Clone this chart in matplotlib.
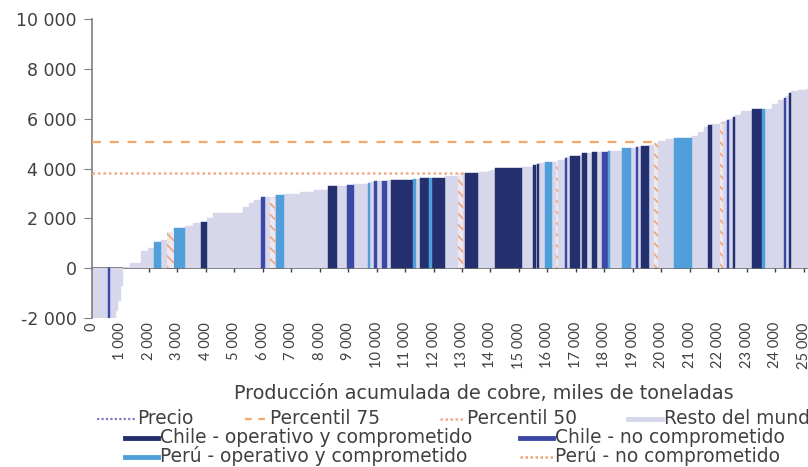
import numpy as np
import matplotlib
matplotlib.use("Agg")
import matplotlib.pyplot as plt
from matplotlib.lines import Line2D

plt.rcParams['font.family'] = ['Lato', 'DejaVu Sans']
plt.rcParams['hatch.linewidth'] = 1.2

# cumulative production at the right edge of each mine (kt)
cum_end = [560, 630, 850, 930, 1010, 1090, 1340, 1720, 1950, 2180, 2430, 2640, 2880, 3270, 3550,
           3830, 4040, 4250, 5300, 5500, 5700, 5940, 6080, 6260, 6430, 6470, 6750, 7300, 7800,
           8300, 8600, 8960, 9210, 9700, 9770, 9910, 10020, 10190, 10370, 10510, 11280, 11390,
           11530, 11850, 11950, 12410, 12860, 13040, 13110, 13570, 13920, 14030, 14170, 15110,
           15500, 15600, 15640, 15710, 15920, 16170, 16310, 16380, 16630, 16700, 16800, 17150,
           17220, 17400, 17580, 17750, 17930, 18140, 18210, 18630, 18950, 19120, 19190, 19300,
           19580, 19750, 19900, 20150, 20460, 21090, 21300, 21500, 21650, 21790, 22070, 22180,
           22320, 22390, 22530, 22600, 22800, 23200, 23550, 23660, 23900, 24110, 24320, 24390,
           24500, 24570, 24800, 25100, 26000]
# cost of each mine
costs = [-2100, -2100, -2100, -1700, -1300, -700, 50, 200, 700, 800, 1040, 1150, 1450, 1620, 1700,
         1800, 1850, 2000, 2230, 2450, 2600, 2750, 2870, 2870, 2870, 2930, 2950, 2980, 3050,
         3150, 3280, 3280, 3330, 3380, 3420, 3450, 3480, 3480, 3500, 3520, 3540, 3560,
         3580, 3610, 3610, 3620, 3700, 3800, 3800, 3800, 3850, 3900, 3950, 4010,
         4080, 4130, 4150, 4180, 4220, 4260, 4280, 4300, 4350, 4420, 4450, 4500,
         4550, 4610, 4640, 4660, 4660, 4670, 4690, 4720, 4820, 4840, 4860, 4880,
         4900, 4950, 5020, 5100, 5180, 5220, 5300, 5450, 5650, 5740, 5800, 5850,
         5900, 5940, 6000, 6060, 6150, 6320, 6380, 6380, 6400, 6600, 6750, 6830,
         6900, 7050, 7100, 7150, 7200]
# category of each mine: R resto, CO Chile operativo, CN Chile no comprometido,
# PO Perú operativo, PN Perú no comprometido
cats = ['R', 'CN', 'R', 'R', 'R', 'R', 'R', 'R', 'R', 'R', 'PO', 'R', 'PN', 'PO', 'R',
        'R', 'CO', 'R', 'R', 'R', 'R', 'R', 'CN', 'R', 'PN', 'R', 'PO', 'R', 'R',
        'R', 'CO', 'R', 'CN', 'R', 'PO', 'R', 'CN', 'R', 'CN', 'R', 'CO', 'PO',
        'R', 'CO', 'PO', 'CO', 'R', 'PN', 'R', 'CO', 'R', 'R', 'R', 'CO',
        'R', 'CO', 'R', 'CO', 'R', 'PO', 'R', 'PN', 'R', 'CN', 'R', 'CO',
        'R', 'CO', 'R', 'CO', 'R', 'CN', 'PO', 'R', 'PO', 'R', 'CN', 'R',
        'CO', 'R', 'PN', 'R', 'R', 'PO', 'R', 'R', 'R', 'CO', 'R', 'PN',
        'R', 'CN', 'R', 'CO', 'R', 'R', 'CO', 'PO', 'R', 'R', 'R', 'CN',
        'R', 'CO', 'R', 'R', 'R']

p75_value = 5060
p75_end = 19900
p50_value = 3810
p50_end = 13100

xticks = list(range(0, 26000, 1000))
yticks = [-2000, 0, 2000, 4000, 6000, 8000, 10000]

colors = {'R': '#d7d7ec', 'CO': '#242f6e', 'CN': '#3c48a6', 'PO': '#509fdb', 'PN': '#efe6ee'}
c_p75 = '#f5a86a'
c_p50 = '#f3aa8a'
c_precio = '#7b7bc4'
c_pn = '#f0a47a'
txt = '#404040'

def fmt(v):
    return f"{v:,}".replace(",", " ")

W, H = 808, 467
fig = plt.figure(figsize=(W / 100, H / 100), dpi=100)
ax = fig.add_axes([92 / W, 149 / H, 740 / W, 299 / H])

ends = np.array(cum_end, dtype=float)
starts = np.concatenate([[0.0], ends[:-1]])
widths = ends - starts
costs_a = np.array(costs, dtype=float)

for c in ['R', 'CO', 'CN', 'PO', 'PN']:
    m = np.array([k == c for k in cats])
    if c == 'PN':
        ax.bar(starts[m], costs_a[m], width=widths[m], align='edge', color=colors[c],
               edgecolor=c_pn, hatch='\\\\\\', linewidth=0, zorder=2)
    else:
        ax.bar(starts[m], costs_a[m], width=widths[m], align='edge', color=colors[c],
               edgecolor=colors[c], linewidth=0.3, zorder=2 if c != 'R' else 1)

ax.plot([0, p75_end], [p75_value, p75_value], color=c_p75, lw=1.6,
        linestyle=(0, (4, 4)), zorder=3)
ax.plot([0, p50_end], [p50_value, p50_value], color=c_p50, lw=1.8,
        linestyle=(0, (1, 1.2)), zorder=3)

ax.set_xlim(0, 26000)
ax.set_ylim(-2000, 10000)

for s in ['top', 'right', 'bottom']:
    ax.spines[s].set_visible(False)
ax.spines['left'].set_color('#7f7f7f')
ax.spines['left'].set_linewidth(1.2)

ax.set_yticks(yticks)
ax.set_yticklabels([fmt(v) for v in yticks], fontsize=12.5, color=txt,
                   family=['DejaVu Sans'])
ax.tick_params(axis='y', direction='out', length=6, color='#7f7f7f', pad=5)

ax.set_xticks(xticks)
ax.set_xticklabels([fmt(v) for v in xticks], rotation=90, fontsize=10.5, color=txt)
ax.tick_params(axis='x', length=0, pad=3)

sec = ax.secondary_xaxis(0.1667)
sec.set_xticks(xticks)
sec.set_xticklabels([])
sec.tick_params(axis='x', direction='out', length=3, color='#404040', width=1)
sec.spines['bottom'].set_color('#505050')
sec.spines['bottom'].set_linewidth(1.2)

fig.text(484 / W, 1 - 399 / H, 'Producción acumulada de cobre, miles de toneladas',
         ha='center', va='baseline', fontsize=13.8, color=txt, family=['DejaVu Sans'])

# legend drawn item by item (handle x0, x1, handle y, text baseline y, label)
def legend_item(x0, x1, y, yb, label, **line_kw):
    fig.add_artist(Line2D([x0 / W, x1 / W], [1 - y / H, 1 - y / H],
                          transform=fig.transFigure, **line_kw))
    fig.text((x1 + 2) / W, 1 - yb / H, label, ha='left', va='baseline',
             fontsize=13.4, color=txt, family=['DejaVu Sans'])

legend_item(97, 135, 419, 424, 'Precio', color=c_precio, lw=1.6, linestyle=(0, (1, 1)))
legend_item(245, 268, 419, 424, 'Percentil 75', color=c_p75, lw=1.6, linestyle=(0, (3, 3)))
legend_item(440, 465, 419, 424, 'Percentil 50', color=c_p50, lw=1.8, linestyle=(0, (1, 1)))
legend_item(628, 662, 419, 424, 'Resto del mundo', color=colors['R'], lw=3.5)
legend_item(125, 158, 438, 443, 'Chile - operativo y comprometido', color=colors['CO'], lw=3.5)
legend_item(520, 553, 438, 443, 'Chile - no comprometido', color=colors['CN'], lw=3.5)
legend_item(125, 158, 457, 462, 'Perú - operativo y comprometido', color=colors['PO'], lw=3.5)
legend_item(520, 553, 457, 462, 'Perú - no comprometido', color=c_pn, lw=1.8,
            linestyle=(0, (1, 1)))

fig.savefig('out.png', dpi=100)
